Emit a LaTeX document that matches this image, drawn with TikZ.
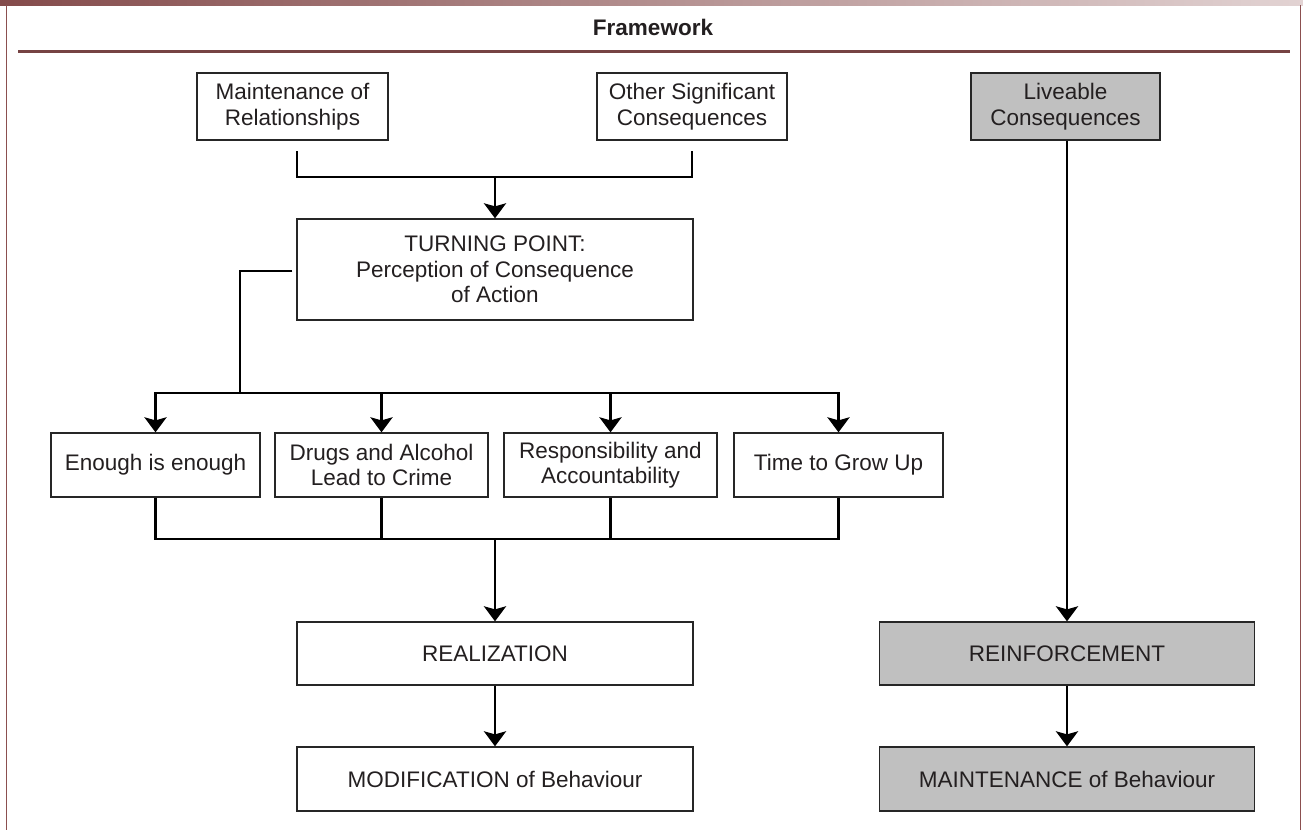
\documentclass[tikz,border=0pt]{standalone}
\usepackage{fontspec}
\setmainfont{Liberation Sans}
\usetikzlibrary{arrows.meta,calc}
\definecolor{txt}{HTML}{231F20}
\definecolor{frame}{HTML}{8B4F4F}
\definecolor{boxgray}{HTML}{C0C0C0}
\tikzset{
  box/.style={draw=black!85, line width=1.3pt, fill=white, text=txt, align=center,
    inner sep=0pt, font=\fontsize{22.5}{25.5}\selectfont},
  graybox/.style={box, fill=boxgray},
  conn/.style={line width=2.8pt, black, line cap=butt},
  arr/.style={conn, -{Stealth[length=15pt,width=22pt,inset=3pt]}},
}
\begin{document}
\begin{tikzpicture}[x=1pt,y=-1pt]
\useasboundingbox (0,0) rectangle (1303,830);
\fill[white] (0,0) rectangle (1303,830);
% top band and frame
\shade[left color=frame!95!black, right color=frame!25] (0,0) rectangle (1303,5);
\draw[frame, line width=1.5pt] (6.5,5) -- (6.5,830);
\draw[frame, line width=1.5pt] (1300.5,5) -- (1300.5,830);
\node[text=txt, font=\bfseries\fontsize{22.5}{25}\selectfont] (title) at (653,27) {Framework};
\draw[frame!85!black, line width=3pt] (18,51) -- (1290,51);
% nodes
\node[box, minimum width=191pt, minimum height=67pt] (mr) at (292.5,106.5) {Maintenance of\\Relationships};
\node[box, minimum width=190pt, minimum height=67pt] (osc) at (692,106.5) {Other Significant\\Consequences};
\node[graybox, minimum width=189pt, minimum height=67pt] (lc) at (1065.5,106.5) {Liveable\\Consequences};
\node[box, minimum width=396pt, minimum height=101pt] (tp) at (495,269.5) {TURNING POINT:\\Perception of Consequence\\of Action};
\node[box, minimum width=209pt, minimum height=64pt] (e1) at (155.5,465) {Enough is enough};
\node[box, minimum width=213pt, minimum height=64pt] (e2) at (381.5,465) {Drugs and Alcohol\\Lead to Crime};
\node[box, minimum width=213pt, minimum height=64pt] (e3) at (610.5,465) {Responsibility and\\Accountability};
\node[box, minimum width=209pt, minimum height=64pt] (e4) at (838.5,465) {Time to Grow Up};
\node[box, minimum width=396pt, minimum height=63pt] (re) at (495,653.5) {REALIZATION};
\node[box, minimum width=396pt, minimum height=64pt] (mo) at (495,779) {MODIFICATION of Behaviour};
\node[graybox, minimum width=375pt, minimum height=63pt] (rf) at (1067,653.5) {REINFORCEMENT};
\node[graybox, minimum width=375pt, minimum height=64pt] (mt) at (1067,779) {MAINTENANCE of Behaviour};
% connectors
\coordinate (a1) at (297,151);
\coordinate (a2) at (692,151);
\coordinate (jt) at (495,177);
\draw[conn] (a1) |- (a2 |- jt) -- (a2);
\draw[arr] (jt) -- (tp.north);
\coordinate (b) at (240,393);
\draw[conn] ($(tp.west)+(-4,1.5)$) -| (b);
\draw[conn] ($(e1.north |- b)+(-1.4,0)$) -- ($(e4.north |- b)+(1.4,0)$);
\draw[arr] (e1.north |- b) -- (e1.north);
\draw[arr] (e2.north |- b) -- (e2.north);
\draw[arr] (e3.north |- b) -- (e3.north);
\draw[arr] (e4.north |- b) -- (e4.north);
\coordinate (c) at (495,539);
\draw[conn] (e1.south) |- (e4.south |- c) -- (e4.south);
\draw[conn] (e2.south) -- (e2.south |- c);
\draw[conn] (e3.south) -- (e3.south |- c);
\draw[arr] (c) -- (re.north);
\draw[arr] (re.south) -- (mo.north);
\draw[arr] (lc.south -| rf.north) -- (rf.north);
\draw[arr] (rf.south) -- (mt.north);
\end{tikzpicture}
\end{document}
